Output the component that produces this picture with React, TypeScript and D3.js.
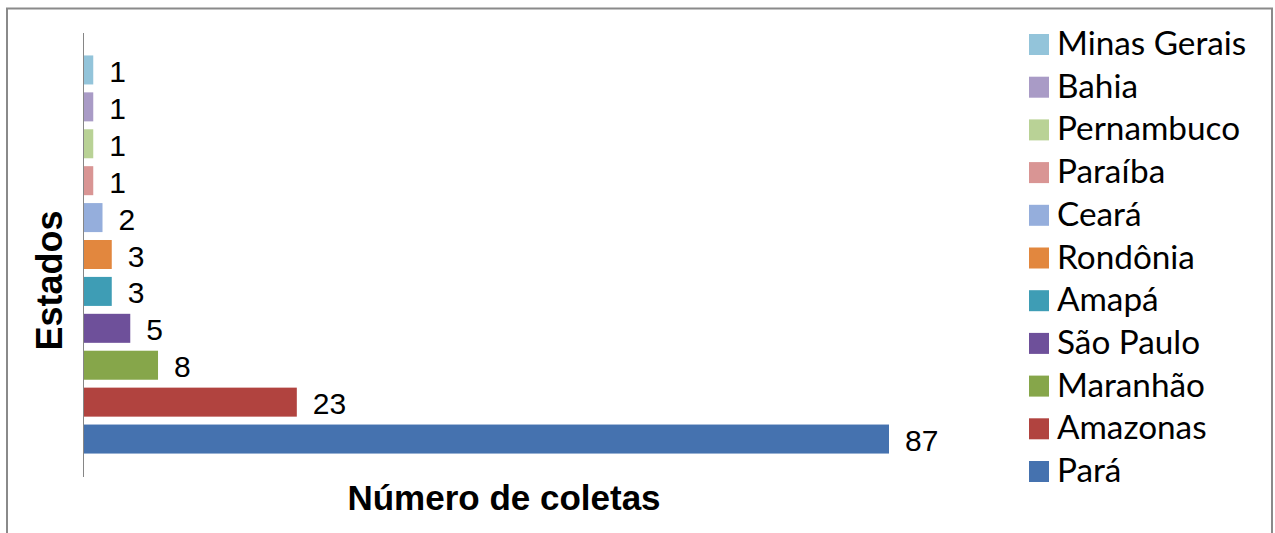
import React from "react";
import * as d3 from "d3";

// estados de cima para baixo
const estados = [
  "Minas Gerais",
  "Bahia",
  "Pernambuco",
  "Paraíba",
  "Ceará",
  "Rondônia",
  "Amapá",
  "São Paulo",
  "Maranhão",
  "Amazonas",
  "Pará",
];
const coletas = [1, 1, 1, 1, 2, 3, 3, 5, 8, 23, 87];
const cores = [
  "#93C4DA",
  "#A99BC6",
  "#B9D296",
  "#D99594",
  "#95AEDC",
  "#E2873E",
  "#3E9DB5",
  "#6E509A",
  "#86A64A",
  "#B1433F",
  "#4572AF",
];

const W = 1275;
const H = 533;

const App: React.FC = () => {
  const x = d3.scaleLinear().domain([0, 87]).range([84, 889]);
  const y = d3
    .scaleBand<string>()
    .domain(estados)
    .range([51.5, 457.5])
    .paddingInner(0.214)
    .paddingOuter(0.107);

  const legendY = d3
    .scalePoint<string>()
    .domain(estados)
    .range([55, 482]);

  return (
    <svg
      width={W}
      height={H}
      style={{ position: "absolute", left: 0, top: 0, background: "#fff" }}
    >
      {/* moldura */}
      <rect x={7} y={8.5} width={1265} height={540} fill="#fff" stroke="#8a8a8a" strokeWidth={2} />

      {/* barras */}
      {estados.map((e, i) => (
        <g key={e}>
          <rect
            x={x(0)}
            y={y(e)}
            width={x(coletas[i]) - x(0)}
            height={y.bandwidth()}
            fill={cores[i]}
          />
          <text
            x={x(coletas[i]) + 16}
            y={(y(e) ?? 0) + y.bandwidth() / 2 + 12}
            fontFamily="'Liberation Sans', Arial, sans-serif"
            fontSize={30}
            fill="#000"
          >
            {coletas[i]}
          </text>
        </g>
      ))}

      {/* eixo vertical */}
      <line x1={83.5} x2={83.5} y1={33} y2={477} stroke="#868686" strokeWidth={1} />

      {/* títulos */}
      <text
        transform="translate(62,280.5) rotate(-90)"
        textAnchor="middle"
        fontFamily="'Liberation Sans', Arial, sans-serif"
        fontWeight="bold"
        fontSize={36}
      >
        Estados
      </text>
      <text
        x={504}
        y={510}
        textAnchor="middle"
        fontFamily="'Liberation Sans', Arial, sans-serif"
        fontWeight="bold"
        fontSize={35}
      >
        Número de coletas
      </text>

      {/* legenda */}
      {estados.map((e, i) => (
        <g key={"lg" + e}>
          <rect x={1029} y={legendY(e)! - 21} width={20} height={21} fill={cores[i]} />
          <text
            x={1057}
            y={legendY(e)}
            fontFamily="Lato, 'Open Sans', sans-serif"
            fontSize={33.3}
            fill="#000"
          >
            {e}
          </text>
        </g>
      ))}
    </svg>
  );
};

export default App;
